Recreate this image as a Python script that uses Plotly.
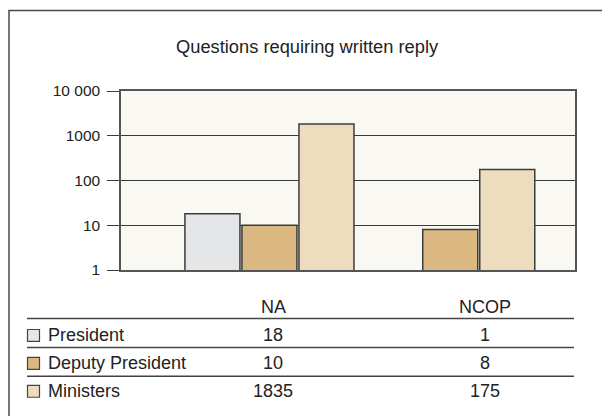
import plotly.graph_objects as go

# ---- data ----
categories = ["NA", "NCOP"]
series_names = ["President", "Deputy President", "Ministers"]
president = [18, 1]
deputy_president = [10, 8]
ministers = [1835, 175]
y_tickvals = [1, 10, 100, 1000, 10000]
y_ticktext = ["1", "10", "100", "1000", "10 000"]
title_text = "Questions requiring written reply"

colors = ["#e5e6e8", "#dbb881", "#eddcbd"]
series_values = [president, deputy_president, ministers]

OFF = 8  # page body margin offset
W, H = 610, 416
L, R, T, B = 121 - OFF, 575 - OFF, 90.7 - OFF, 270.3 - OFF  # plot area in figure px


def px(x):
    return (x - OFF - L) / (R - L)


def py(y):
    return (B - (y - OFF)) / (B - T)


FONT = "Liberation Sans, Arial, sans-serif"
TXT = "#222222"
LINE = "#3c3c3c"

fig = go.Figure()
for name, vals, col in zip(series_names, series_values, colors):
    fig.add_trace(go.Bar(
        x=categories, y=vals, name=name,
        marker=dict(color=col,
                    line=dict(color=LINE, width=[1.5 if v > 1 else 0 for v in vals])),
        showlegend=False,
    ))

shapes = []
annotations = []

# outer frame
shapes.append(dict(type="rect", xref="paper", yref="paper",
                   x0=px(9), x1=px(680), y0=py(480), y1=py(10),
                   line=dict(color="#4a4a4a", width=1.5), layer="below"))

# title
annotations.append(dict(text=title_text, xref="paper", yref="paper",
                        x=px(307.5), y=py(46), xanchor="center", yanchor="middle",
                        showarrow=False, font=dict(family=FONT, size=18.3, color=TXT)))

# data table
col_x = [273, 485]
header_y = 307
row_y = [336, 364, 392]
line_y = [319, 348, 377]
for cx, cat in zip(col_x, categories):
    annotations.append(dict(text=cat, xref="paper", yref="paper", x=px(cx), y=py(header_y),
                            xanchor="center", yanchor="middle", showarrow=False,
                            font=dict(family=FONT, size=18, color=TXT)))
for ly in line_y:
    shapes.append(dict(type="line", xref="paper", yref="paper",
                       x0=px(27), x1=px(574), y0=py(ly), y1=py(ly),
                       line=dict(color="#444444", width=1.5)))
for ry, name, vals, col in zip(row_y, series_names, series_values, colors):
    shapes.append(dict(type="rect", xref="paper", yref="paper",
                       x0=px(27.5), x1=px(39.5), y0=py(ry + 6), y1=py(ry - 6),
                       fillcolor=col, line=dict(color="#444444", width=1.2)))
    annotations.append(dict(text=name, xref="paper", yref="paper", x=px(46), y=py(ry),
                            xanchor="left", yanchor="middle", showarrow=False,
                            font=dict(family=FONT, size=18, color=TXT)))
    for cx, v in zip(col_x, vals):
        annotations.append(dict(text=str(v), xref="paper", yref="paper", x=px(cx), y=py(ry),
                                xanchor="center", yanchor="middle", showarrow=False,
                                font=dict(family=FONT, size=18, color=TXT)))

fig.update_layout(
    width=W, height=H,
    margin=dict(l=L, r=W - R, t=T, b=H - B, pad=0),
    paper_bgcolor="white",
    plot_bgcolor="#f9f8f3",
    barmode="group",
    bargap=0.054,
    bargroupgap=0.035,
    showlegend=False,
    shapes=shapes,
    annotations=annotations,
    font=dict(family=FONT, color=TXT),
)
fig.update_xaxes(
    type="category", range=[-0.821, 1.690],
    showticklabels=False, ticks="", showgrid=False,
    showline=True, mirror=True, linecolor="#555555", linewidth=1.5,
)
fig.update_yaxes(
    type="log", range=[0, 4],
    tickvals=y_tickvals, ticktext=y_ticktext,
    ticks="outside", ticklen=12, tickwidth=1, tickcolor=LINE,
    ticklabelstandoff=4,
    showgrid=True, gridcolor=LINE, gridwidth=1,
    showline=True, mirror=True, linecolor="#555555", linewidth=1.5,
    tickfont=dict(family=FONT, size=15.5, color=TXT),
    zeroline=False,
)

fig.write_html("out.html")
